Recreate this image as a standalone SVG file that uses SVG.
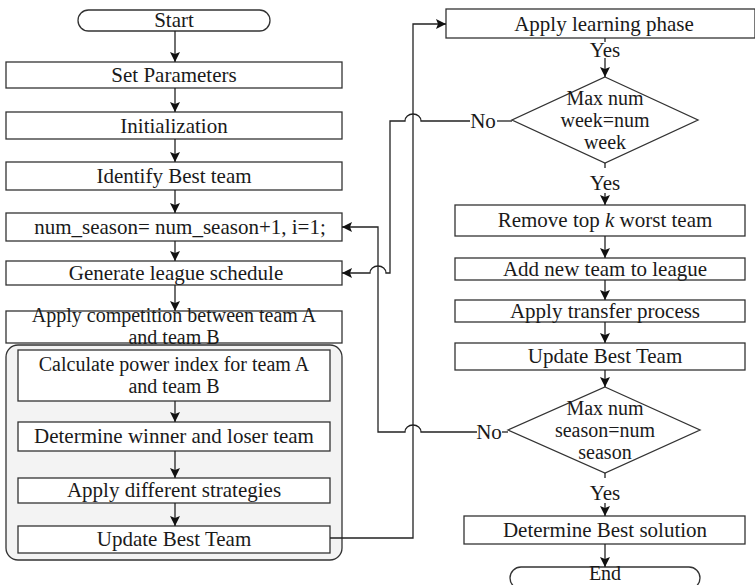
<svg xmlns="http://www.w3.org/2000/svg" width="755" height="585" viewBox="0 0 755 585">
  <style>
    text { font-family: "Liberation Serif", "Times New Roman", serif; font-size: 21px; fill: #1a1a1a; text-anchor: middle; }
    text.tight { font-size: 20px; }
    .box { fill: #ffffff; stroke: #333333; stroke-width: 1.3; }
    .group { fill: #f3f3f3; stroke: #333333; stroke-width: 1.3; }
    .wire { fill: none; stroke: #222222; stroke-width: 1.3; }
  </style>
  <defs>
    <marker id="arrow" viewBox="0 0 10 10" refX="10" refY="5" markerUnits="userSpaceOnUse" markerWidth="10" markerHeight="10" orient="auto">
      <path d="M0,0 L10,5 L0,10 L2,5 z" fill="#111111"/>
    </marker>
  </defs>

  <rect width="755" height="585" fill="#ffffff"/>

  <!-- grouping frame around the match stage -->
  <g id="match-stage">
    <rect class="group" x="6" y="345" width="336" height="215" rx="12"/>
  </g>

  <!-- left column -->
  <g id="start">
    <rect class="box" x="78" y="10" width="192" height="21" rx="10.5"/>
    <text x="174" y="27">Start</text>
  </g>
  <g id="set-parameters">
    <rect class="box" x="6" y="62" width="336" height="26"/>
    <text x="174" y="82">Set Parameters</text>
  </g>
  <g id="initialization">
    <rect class="box" x="6" y="112" width="336" height="27"/>
    <text x="174" y="133">Initialization</text>
  </g>
  <g id="identify-best">
    <rect class="box" x="6" y="162" width="336" height="28"/>
    <text x="174" y="183">Identify Best team</text>
  </g>
  <g id="season-counter">
    <rect class="box" x="6" y="213" width="336" height="28"/>
    <text x="180" y="234">num_season= num_season+1, i=1;</text>
  </g>
  <g id="league-schedule">
    <rect class="box" x="6" y="261" width="336" height="24"/>
    <text x="176" y="280">Generate league schedule</text>
  </g>
  <g id="competition">
    <rect class="box" x="6" y="311" width="336" height="32"/>
    <text class="tight" x="174" y="322">Apply competition between team A</text>
    <text class="tight" x="174" y="344">and team B</text>
  </g>
  <g id="power-index">
    <rect class="box" x="18" y="350" width="312" height="51"/>
    <text class="tight" x="174" y="371">Calculate power index for team A</text>
    <text class="tight" x="174" y="393">and team B</text>
  </g>
  <g id="winner-loser">
    <rect class="box" x="18" y="422" width="312" height="29"/>
    <text x="174" y="443">Determine winner and loser team</text>
  </g>
  <g id="strategies">
    <rect class="box" x="18" y="478" width="312" height="25"/>
    <text x="174" y="497">Apply different strategies</text>
  </g>
  <g id="update-best-1">
    <rect class="box" x="18" y="526" width="312" height="27"/>
    <text x="174" y="546">Update Best Team</text>
  </g>

  <!-- right column -->
  <g id="learning-phase">
    <rect class="box" x="446" y="9" width="309" height="29"/>
    <text x="604" y="31">Apply learning phase</text>
  </g>
  <g id="week-check">
    <polygon class="box" points="605,77 698,120 605,163 512,120"/>
    <text class="tight" x="605" y="105">Max num</text>
    <text class="tight" x="605" y="127">week=num</text>
    <text class="tight" x="605" y="149">week</text>
  </g>
  <g id="remove-worst">
    <rect class="box" x="455" y="205" width="290" height="31"/>
    <text x="605" y="227">Remove top <tspan font-style="italic">k</tspan> worst team</text>
  </g>
  <g id="add-team">
    <rect class="box" x="455" y="258" width="290" height="22"/>
    <text x="605" y="276">Add new team to league</text>
  </g>
  <g id="transfer">
    <rect class="box" x="455" y="300" width="290" height="22"/>
    <text x="605" y="318">Apply transfer process</text>
  </g>
  <g id="update-best-2">
    <rect class="box" x="455" y="343" width="290" height="27"/>
    <text x="605" y="363">Update Best Team</text>
  </g>
  <g id="season-check">
    <polygon class="box" points="605,387 700,430 605,473 508,430"/>
    <text class="tight" x="605" y="415">Max num</text>
    <text class="tight" x="605" y="437">season=num</text>
    <text class="tight" x="605" y="459">season</text>
  </g>
  <g id="best-solution">
    <rect class="box" x="464" y="516" width="281" height="28"/>
    <text x="605" y="537">Determine Best solution</text>
  </g>
  <g id="end">
    <rect class="box" x="510" y="567" width="190" height="22" rx="11"/>
    <text class="tight" x="605" y="580">End</text>
  </g>

  <!-- connectors -->
  <g id="connectors">
    <path class="wire" marker-end="url(#arrow)" d="M175,31 V62"/>
    <path class="wire" marker-end="url(#arrow)" d="M175,88 V112"/>
    <path class="wire" marker-end="url(#arrow)" d="M175,139 V162"/>
    <path class="wire" marker-end="url(#arrow)" d="M175,190 V213"/>
    <path class="wire" marker-end="url(#arrow)" d="M175,241 V261"/>
    <path class="wire" marker-end="url(#arrow)" d="M175,285 V311"/>
    <path class="wire" marker-end="url(#arrow)" d="M175,401 V422"/>
    <path class="wire" marker-end="url(#arrow)" d="M175,451 V478"/>
    <path class="wire" marker-end="url(#arrow)" d="M175,503 V526"/>

    <path class="wire" d="M605,38 V42"/>
    <path class="wire" marker-end="url(#arrow)" d="M605,58 V77"/>
    <path class="wire" d="M605,163 V168"/>
    <path class="wire" marker-end="url(#arrow)" d="M605,193 V205"/>
    <path class="wire" marker-end="url(#arrow)" d="M605,236 V258"/>
    <path class="wire" marker-end="url(#arrow)" d="M605,280 V300"/>
    <path class="wire" marker-end="url(#arrow)" d="M605,322 V343"/>
    <path class="wire" marker-end="url(#arrow)" d="M605,370 V387"/>
    <path class="wire" d="M605,473 V478"/>
    <path class="wire" marker-end="url(#arrow)" d="M605,503 V516"/>
    <path class="wire" marker-end="url(#arrow)" d="M605,544 V567"/>

    <!-- match loop back to the learning phase -->
    <path class="wire" marker-end="url(#arrow)" d="M330,538 H413 V24 H446"/>
    <!-- week not finished: back to schedule -->
    <path class="wire" d="M512,121 H497"/>
    <path class="wire" marker-end="url(#arrow)" d="M470,121 H421 A8,7 0 0 0 405,121 H390 V273 H386 A8,7 0 0 0 370,273 H342"/>
    <!-- season not finished: next season -->
    <path class="wire" d="M508,432 H502"/>
    <path class="wire" marker-end="url(#arrow)" d="M477,432 H421 A8,7 0 0 0 405,432 H378 V227 H342"/>

    <text x="605" y="57">Yes</text>
    <text x="605" y="190">Yes</text>
    <text x="605" y="500">Yes</text>
    <text x="483" y="128">No</text>
    <text x="489" y="439">No</text>
  </g>
</svg>
